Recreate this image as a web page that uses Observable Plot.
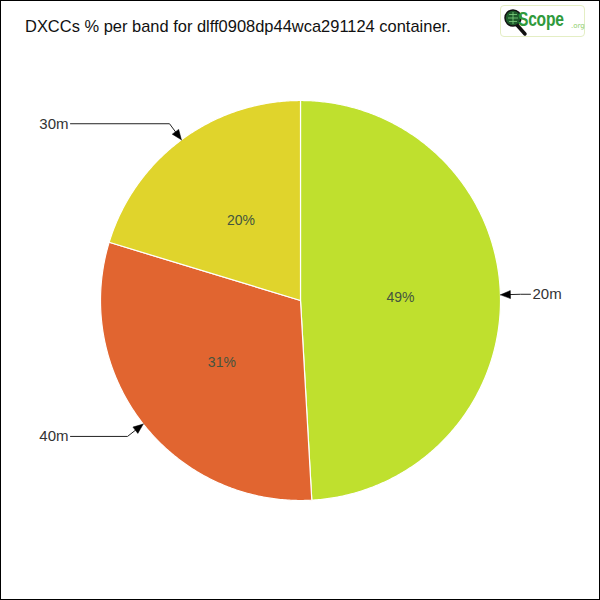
<!DOCTYPE html>
<html>
<head>
<meta charset="utf-8">
<script src="https://cdn.jsdelivr.net/npm/d3@7"></script>
<script src="https://cdn.jsdelivr.net/npm/@observablehq/plot@0.6"></script>
<style>
  html, body { margin: 0; padding: 0; background: #fff; }
  #wrap { position: relative; width: 600px; height: 600px; overflow: hidden; }
  #border { position: absolute; left: 0; top: 0; width: 600px; height: 600px; box-sizing: border-box; border: 1px solid #000; pointer-events: none; }
  #title { position: absolute; left: 25px; top: 17px; font-family: "Liberation Sans", sans-serif; font-size: 17px; color: #111; white-space: nowrap; transform-origin: 0 0; transform: scaleX(0.968); }
  #logo { position: absolute; left: 500px; top: 5px; width: 85px; height: 32px; box-sizing: border-box; border: 1px solid #e4eec4; border-radius: 4px; background: #fff; }
  #logo svg { position: absolute; left: 2px; top: 2px; }
  #logo .scope { position: absolute; left: 17px; top: 2px; font-family: "Liberation Sans", sans-serif; font-weight: bold; font-size: 20px; color: #2f9a3c; transform-origin: 0 0; transform: scaleX(0.78); letter-spacing: -0.3px; }
  #logo .org { position: absolute; left: 70px; top: 16px; font-family: "DejaVu Sans", sans-serif; font-size: 7px; color: #8fcf70; }
</style>
</head>
<body>
<div id="wrap">
  <div id="chart"></div>
  <div id="title">DXCCs % per band for dlff0908dp44wca291124 container.</div>
  <div id="logo">
    <svg width="30" height="30" viewBox="0 0 30 30">
      <line x1="14" y1="17" x2="22" y2="26" stroke="#111" stroke-width="3.5" stroke-linecap="round"/>
      <circle cx="10" cy="10" r="8" fill="#1d5a2a" stroke="#111" stroke-width="1.5"/>
      <path d="M5 10 H15 M10 4 V16 M6 6.5 H14 M6 13.5 H14" stroke="#7fd07f" stroke-width="0.8"/>
    </svg>
    <span class="scope">Scope</span><span class="org">.org</span>
  </div>
  <div id="border"></div>
</div>
<script>
// ---- data ----
const bands = ["20m", "40m", "30m"];
const values = [49.1, 30.6, 20.3];
const pctLabels = ["49%", "31%", "20%"];
const colors = ["#bfe02e", "#e16530", "#e0d42c"];

// ---- geometry (data units = pixels, centre at 0,0, y up) ----
const R = 200;
const arcs = d3.pie().sort(null).value(d => d)(values);
const pt = (a, r) => ({ x: r * Math.sin(a), y: r * Math.cos(a) });

const slicePts = [];
arcs.forEach((a, i) => {
  const n = Math.max(4, Math.ceil((a.endAngle - a.startAngle) / (Math.PI / 360)));
  slicePts.push({ band: bands[i], x: 0, y: 0 });
  for (let k = 0; k <= n; k++) {
    const t = a.startAngle + (a.endAngle - a.startAngle) * k / n;
    slicePts.push({ band: bands[i], ...pt(t, R) });
  }
  slicePts.push({ band: bands[i], x: 0, y: 0 });
});

const mids = arcs.map(a => (a.startAngle + a.endAngle) / 2);
const pctPts = mids.map((m, i) => ({ label: pctLabels[i], ...pt(m, R / 2) }));

const leaderPts = [];
const headPts = [];
const calloutTexts = [];
mids.forEach((m, i) => {
  const tip = pt(m, R);
  const elbow = pt(m, R + 20);
  const right = Math.sin(m) >= 0;
  const endX = right ? 230 : -230;
  const dx = tip.x - elbow.x, dy = tip.y - elbow.y;
  const len = Math.hypot(dx, dy);
  const ux = dx / len, uy = dy / len;
  const hl = 10, hw = 4;
  const base = { x: tip.x - ux * hl, y: tip.y - uy * hl };
  leaderPts.push({ band: bands[i], x: endX, y: elbow.y });
  leaderPts.push({ band: bands[i], x: elbow.x, y: elbow.y });
  leaderPts.push({ band: bands[i], x: base.x, y: base.y });
  headPts.push({ band: bands[i], x: tip.x, y: tip.y });
  headPts.push({ band: bands[i], x: base.x - uy * hw, y: base.y + ux * hw });
  headPts.push({ band: bands[i], x: base.x + uy * hw, y: base.y - ux * hw });
  headPts.push({ band: bands[i], x: tip.x, y: tip.y });
  calloutTexts.push({ label: bands[i], x: right ? endX + 2 : endX - 2, y: elbow.y, anchor: right ? "start" : "end" });
});

const font = "'Liberation Sans', sans-serif";

const chart = Plot.plot({
  width: 600,
  height: 600,
  margin: 0,
  x: { domain: [-300, 300], axis: null },
  y: { domain: [-300, 300], axis: null },
  color: { domain: bands, range: colors },
  marks: [
    Plot.line(slicePts, { x: "x", y: "y", z: "band", fill: "band", stroke: "#fff", strokeWidth: 1.2, curve: "linear" }),
    Plot.text(pctPts, { x: "x", y: "y", text: "label", fill: "#44543f", fontSize: 14, fontFamily: font }),
    Plot.line(leaderPts, { x: "x", y: "y", z: "band", stroke: "#222", strokeWidth: 1 }),
    Plot.line(headPts, { x: "x", y: "y", z: "band", fill: "#000", stroke: "#000", strokeWidth: 0.5 }),
    Plot.text(calloutTexts.filter(d => d.anchor === "start"), { x: "x", y: "y", text: "label", textAnchor: "start", fill: "#333", fontSize: 15, fontFamily: font }),
    Plot.text(calloutTexts.filter(d => d.anchor === "end"), { x: "x", y: "y", text: "label", textAnchor: "end", fill: "#333", fontSize: 15, fontFamily: font })
  ]
});
document.getElementById("chart").appendChild(chart);
</script>
</body>
</html>
